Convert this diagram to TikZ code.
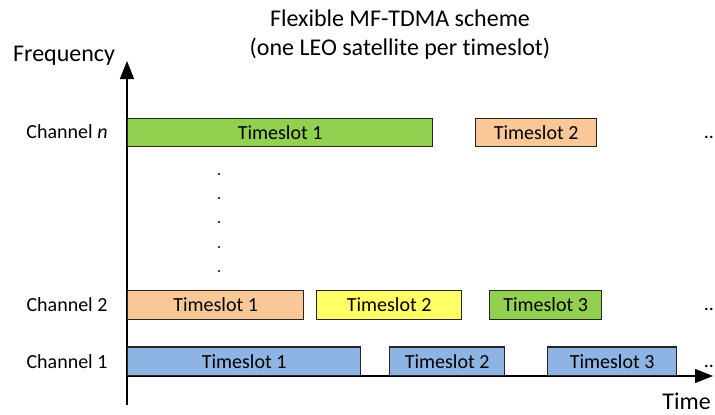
\documentclass[tikz,border=0pt]{standalone}
\usepackage{fontspec}
\setmainfont[Ligatures=NoCommon]{Carlito}
\usetikzlibrary{arrows.meta}
\definecolor{cgreen}{RGB}{146,208,80}
\definecolor{corange}{RGB}{250,200,150}
\definecolor{cyellow}{RGB}{255,255,102}
\definecolor{cblue}{RGB}{142,180,227}
\tikzset{
  slot/.style={draw=black!85, line width=1.3pt, inner sep=0pt, anchor=north west,
    minimum height=28.5pt, text height=14pt, text depth=0pt,
    font=\fontsize{20}{24}\selectfont},
  lbl/.style={inner sep=0pt, font=\fontsize{20}{24}\selectfont, anchor=base},
  big/.style={inner sep=0pt, font=\fontsize{24}{28}\selectfont, anchor=base},
  axis/.style={line width=1.4pt, -{Triangle[length=18pt,width=14pt]}}
}
\begin{document}
\begin{tikzpicture}[x=1pt,y=-1pt]
\useasboundingbox (0,0) rectangle (715,415);
% titles
\node[big] (title1) at (400,27) {Flexible MF-TDMA scheme};
\node[big] (title2) at (400,55) {(one LEO satellite per timeslot)};
\node[big,anchor=base west] (freq) at (13,61) {Frequency};
\node[big,anchor=base east] (time) at (711,409) {Time};
% axes
\coordinate (o) at (127,376);
\coordinate (vb) at (127,405);
\coordinate (vt) at (127,61);
\coordinate (ht) at (713,376);
\draw[axis] (vb) -- (vt);
\draw[axis] (o) -- (ht);
% channel labels
\node[lbl] (chn) at (67,138) {Channel \textit{n}};
\node[lbl] (ch2) at (67,311) {Channel 2};
\node[lbl] (ch1) at (67,368) {Channel 1};
% channel n
\node[slot,fill=cgreen,minimum width=305pt,minimum height=28pt] (n1) at (127,118) {Timeslot 1};
\node[slot,fill=corange,minimum width=121pt,minimum height=28pt] (n2) at (475,118) {Timeslot 2};
\node[lbl] (nd) at (709,138) {..};
% channel 2
\node[slot,fill=corange,minimum width=176pt] (b1) at (127,290) {Timeslot 1};
\node[slot,fill=cyellow,minimum width=145pt] (b2) at (316,290) {Timeslot 2};
\node[slot,fill=cgreen,minimum width=112pt] (b3) at (489,290) {Timeslot 3};
\node[lbl] (bd) at (709,310) {..};
% channel 1
\node[slot,fill=cblue,minimum width=233pt,anchor=south west] (a1) at (127,376) {Timeslot 1};
\node[slot,fill=cblue,minimum width=115pt,anchor=south west] (a2) at (389,376) {Timeslot 2};
\node[slot,fill=cblue,minimum width=129pt,anchor=south west] (a3) at (547,376) {Timeslot 3};
\node[lbl] (ad) at (709,367) {..};
% vertical dots
\foreach \yy in {174,198,222,247,271} \fill (219,\yy) circle (1.1pt);
\end{tikzpicture}
\end{document}
